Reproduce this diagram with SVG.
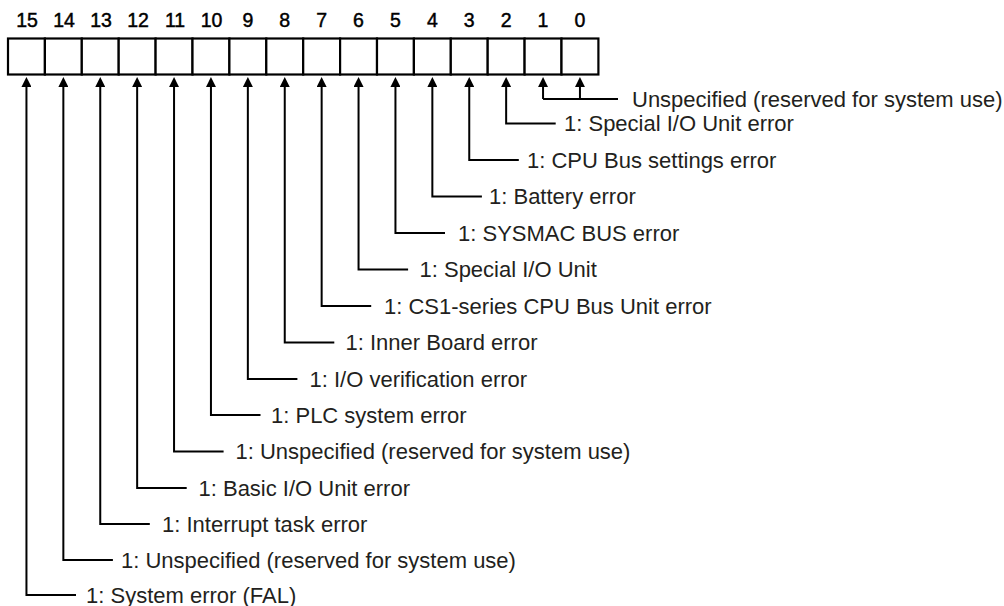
<svg xmlns="http://www.w3.org/2000/svg" width="1004" height="606" viewBox="0 0 1004 606">
<style>
.bitno{font-family:"Liberation Sans",Arial,sans-serif;font-size:19.5px;fill:#000;stroke:#000;stroke-width:0.45;text-anchor:middle}
.lbl{font-family:"Liberation Sans",Arial,sans-serif;font-size:22px;fill:#231f20}
.cell{fill:#fff;stroke:#000;stroke-width:2.2}
.wire{fill:none;stroke:#000;stroke-width:2;marker-end:url(#ah)}
.wire2{fill:none;stroke:#000;stroke-width:2}
</style>
<defs>
<marker id="ah" viewBox="0 0 10 10" refX="5" refY="5" markerWidth="10" markerHeight="10" markerUnits="userSpaceOnUse" orient="auto">
<path d="M0,0 L10,5 L0,10 z" fill="#000"/>
</marker>
</defs>
<rect width="1004" height="606" fill="#fff"/>
<g id="register">
<rect class="cell" x="8" y="38.5" width="36.9" height="36"/>
<rect class="cell" x="44.9" y="38.5" width="36.9" height="36"/>
<rect class="cell" x="81.8" y="38.5" width="36.9" height="36"/>
<rect class="cell" x="118.7" y="38.5" width="36.9" height="36"/>
<rect class="cell" x="155.6" y="38.5" width="36.9" height="36"/>
<rect class="cell" x="192.5" y="38.5" width="36.9" height="36"/>
<rect class="cell" x="229.4" y="38.5" width="36.9" height="36"/>
<rect class="cell" x="266.3" y="38.5" width="36.9" height="36"/>
<rect class="cell" x="303.2" y="38.5" width="36.9" height="36"/>
<rect class="cell" x="340.1" y="38.5" width="36.9" height="36"/>
<rect class="cell" x="377" y="38.5" width="36.9" height="36"/>
<rect class="cell" x="413.9" y="38.5" width="36.9" height="36"/>
<rect class="cell" x="450.8" y="38.5" width="36.9" height="36"/>
<rect class="cell" x="487.7" y="38.5" width="36.9" height="36"/>
<rect class="cell" x="524.6" y="38.5" width="36.9" height="36"/>
<rect class="cell" x="561.5" y="38.5" width="36.9" height="36"/>
<text class="bitno" x="27" y="27">15</text>
<text class="bitno" x="64" y="27">14</text>
<text class="bitno" x="101" y="27">13</text>
<text class="bitno" x="138" y="27">12</text>
<text class="bitno" x="175" y="27">11</text>
<text class="bitno" x="211.5" y="27">10</text>
<text class="bitno" x="247.85" y="27">9</text>
<text class="bitno" x="284.75" y="27">8</text>
<text class="bitno" x="321.65" y="27">7</text>
<text class="bitno" x="358.55" y="27">6</text>
<text class="bitno" x="395.45" y="27">5</text>
<text class="bitno" x="432.35" y="27">4</text>
<text class="bitno" x="469.25" y="27">3</text>
<text class="bitno" x="506.15" y="27">2</text>
<text class="bitno" x="543.05" y="27">1</text>
<text class="bitno" x="579.95" y="27">0</text>
</g>
<g id="connectors">
<path class="wire2" d="M543.05,99 H618"/>
<path class="wire" d="M543.05,99 V82"/>
<path class="wire" d="M579.95,99 V82"/>
<path class="wire" d="M555.7,123.5 H506.15 V82"/>
<path class="wire" d="M518.8,160 H469.25 V82"/>
<path class="wire" d="M481.9,196.5 H432.35 V82"/>
<path class="wire" d="M445,233 H395.45 V82"/>
<path class="wire" d="M408.1,269.5 H358.55 V82"/>
<path class="wire" d="M371.2,306 H321.65 V82"/>
<path class="wire" d="M334.3,342.5 H284.75 V82"/>
<path class="wire" d="M297.4,379 H247.85 V82"/>
<path class="wire" d="M260.5,415 H210.95 V82"/>
<path class="wire" d="M223.6,451.5 H174.05 V82"/>
<path class="wire" d="M186.7,488 H137.15 V82"/>
<path class="wire" d="M149.8,524 H100.25 V82"/>
<path class="wire" d="M112.9,560 H63.35 V82"/>
<path class="wire" d="M76,595 H26.45 V82"/>
</g>
<g id="bit0-1"><text class="lbl" x="632" y="106.5">Unspecified (reserved for system use)</text></g>
<g id="bit2"><text class="lbl" x="564" y="131">1: Special I/O Unit error</text></g>
<g id="bit3"><text class="lbl" x="527" y="167.5">1: CPU Bus settings error</text></g>
<g id="bit4"><text class="lbl" x="489" y="204">1: Battery error</text></g>
<g id="bit5"><text class="lbl" x="458" y="240.5">1: SYSMAC BUS error</text></g>
<g id="bit6"><text class="lbl" x="419.5" y="277">1: Special I/O Unit</text></g>
<g id="bit7"><text class="lbl" x="384" y="313.5">1: CS1-series CPU Bus Unit error</text></g>
<g id="bit8"><text class="lbl" x="345.5" y="350">1: Inner Board error</text></g>
<g id="bit9"><text class="lbl" x="309.5" y="386.5">1: I/O verification error</text></g>
<g id="bit10"><text class="lbl" x="271" y="422.5">1: PLC system error</text></g>
<g id="bit11"><text class="lbl" x="235.5" y="459">1: Unspecified (reserved for system use)</text></g>
<g id="bit12"><text class="lbl" x="198.5" y="495.5">1: Basic I/O Unit error</text></g>
<g id="bit13"><text class="lbl" x="162" y="531.5">1: Interrupt task error</text></g>
<g id="bit14"><text class="lbl" x="121" y="567.5">1: Unspecified (reserved for system use)</text></g>
<g id="bit15"><text class="lbl" x="86" y="602.5">1: System error (FAL)</text></g>
</svg>
